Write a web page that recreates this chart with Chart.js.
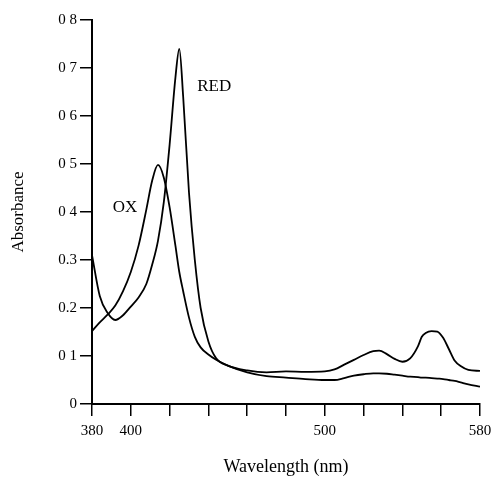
<!DOCTYPE html>
<html>
<head>
<meta charset="utf-8">
<script src="https://cdn.jsdelivr.net/npm/chart.js@4/dist/chart.umd.min.js"></script>
<style>
    html, body { margin: 0; padding: 0; background: #fff; }
    #wrap { width: 494px; height: 479px; }
</style>
</head>
<body>
<div id="wrap"><canvas id="spectrum"></canvas></div>
<script>
// === Données ===
const wavelengths = [380, 384, 388, 392, 396, 400, 404, 408, 411, 414, 417, 420, 423, 425, 427, 430, 433, 436, 440, 444,
    450, 460, 470, 480, 490, 500, 505, 510, 515, 520, 525, 528, 532, 536, 540, 544, 548, 550, 552, 555,
    558, 561, 564, 567, 570, 574, 580];

const redAbs = [0.31, 0.225, 0.19, 0.175, 0.185, 0.203, 0.222, 0.25, 0.29, 0.34, 0.42, 0.54, 0.68, 0.74, 0.64, 0.44, 0.30, 0.20, 0.13, 0.095,
    0.08, 0.07, 0.066, 0.068, 0.067, 0.068, 0.072, 0.082, 0.092, 0.102, 0.11, 0.111, 0.104, 0.094, 0.088, 0.095, 0.12, 0.14, 0.148, 0.152,
    0.151, 0.138, 0.114, 0.09, 0.079, 0.071, 0.069];

const oxAbs = [0.152, 0.17, 0.186, 0.205, 0.235, 0.275, 0.33, 0.405, 0.465, 0.498, 0.472, 0.41, 0.33, 0.275, 0.235, 0.18, 0.14, 0.118, 0.103, 0.092,
    0.08, 0.066, 0.058, 0.055, 0.052, 0.05, 0.05, 0.054, 0.059, 0.062, 0.064, 0.064, 0.063, 0.061, 0.059, 0.057, 0.056, 0.055, 0.055, 0.054,
    0.053, 0.052, 0.05, 0.048, 0.045, 0.041, 0.036];

const xLabelled = [380, 400, 500, 580];
const yTickLabels = ["0", "0 1", "0.2", "0.3", "0 4", "0 5", "0 6", "0 7", "0 8"];

const curveLabels = ["OX", "RED"];
const curveLabelAt = [[397, 0.41], [443, 0.662]];

const serif = "'Liberation Serif', 'DejaVu Serif', serif";

function toPoints(ys) {
    return wavelengths.map((w, i) => ({ x: w, y: ys[i] }));
}

// petit plugin pour écrire OX / RED sur le graphique
const curveTextPlugin = {
    id: 'curveText',
    afterDatasetsDraw(chart) {
        const ctx = chart.ctx;
        const xs = chart.scales.x, ys = chart.scales.y;
        ctx.save();
        ctx.fillStyle = '#000';
        ctx.font = "17px " + serif;
        ctx.textAlign = 'center';
        ctx.textBaseline = 'middle';
        curveLabels.forEach((t, i) => {
            ctx.fillText(t, xs.getPixelForValue(curveLabelAt[i][0]), ys.getPixelForValue(curveLabelAt[i][1]));
        });
        ctx.restore();
    }
};

const lineStyle = {
    borderColor: '#000',
    borderWidth: 1.8,
    pointRadius: 0,
    fill: false,
    cubicInterpolationMode: 'monotone'
};

new Chart(document.getElementById("spectrum"), {
    type: 'line',
    data: {
        datasets: [
            Object.assign({ label: "RED", data: toPoints(redAbs) }, lineStyle),
            Object.assign({ label: "OX", data: toPoints(oxAbs) }, lineStyle)
        ]
    },
    options: {
        responsive: true,
        maintainAspectRatio: false,
        animation: false,
        layout: { padding: { top: 20, right: 14, left: 0, bottom: 0 } },
        plugins: { legend: { display: false }, tooltip: { enabled: false } },
        scales: {
            x: {
                type: 'linear',
                min: 380,
                max: 580,
                afterFit: s => { s.height = 75; s.paddingRight = 0; s.paddingLeft = 0; },
                border: { display: true, color: '#000', width: 2 },
                grid: { drawOnChartArea: false, drawTicks: true, tickLength: 12, color: '#000', lineWidth: 1.5 },
                ticks: {
                    stepSize: 20,
                    padding: 6,
                    color: '#000',
                    maxRotation: 0,
                    autoSkip: false,
                    font: { family: serif, size: 15 },
                    callback: v => xLabelled.includes(v) ? String(v) : ''
                },
                title: {
                    display: true,
                    text: "Wavelength (nm)",
                    color: '#000',
                    font: { family: serif, size: 18 },
                    padding: { top: 0, bottom: 1 }
                }
            },
            y: {
                min: 0,
                max: 0.8,
                afterFit: s => { s.width = 92; },
                border: { display: true, color: '#000', width: 2 },
                grid: { drawOnChartArea: false, drawTicks: true, tickLength: 12, color: '#000', lineWidth: 1.5 },
                ticks: {
                    stepSize: 0.1,
                    padding: 3,
                    color: '#000',
                    font: { family: serif, size: 15 },
                    callback: (v, i) => yTickLabels[i]
                },
                title: {
                    display: true,
                    text: "Absorbance",
                    color: '#000',
                    font: { family: serif, size: 17 },
                    padding: { top: 8, bottom: 0 }
                }
            }
        }
    },
    plugins: [curveTextPlugin]
});
</script>
</body>
</html>
